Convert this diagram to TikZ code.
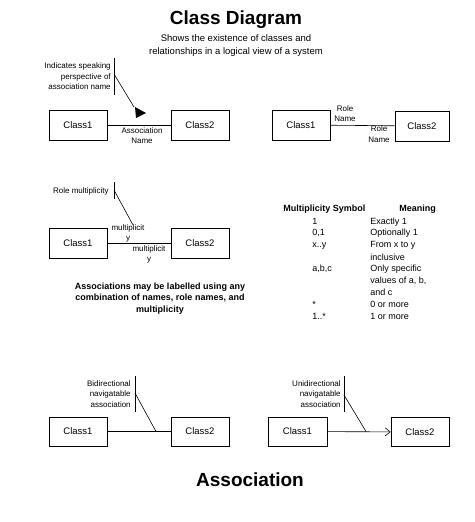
\documentclass[tikz,border=0pt]{standalone}
\usepackage{fontspec}
\setmainfont{Liberation Sans}
\usetikzlibrary{arrows.meta}

\begin{document}
\begin{tikzpicture}
	 [x=1pt,y=-1pt,line width=.6pt,
	  cls/.style={draw,minimum width=58pt,minimum height=30pt,inner sep=0pt,font=\fontsize{9.5}{11}\selectfont},
	  note/.style={align=right,anchor=east,inner sep=0pt,font=\fontsize{8}{10.5}\selectfont},
	  lbl/.style={align=center,inner sep=0pt,font=\fontsize{8}{10}\selectfont},
	  tab/.style={anchor=base west,inner sep=0pt,font=\fontsize{9}{11}\selectfont}]
	\useasboundingbox (0,0) rectangle (474,522);

	\node (title) at (236,20) {\fontsize{19}{22}\selectfont\bfseries Class Diagram};
	\node[align=center,font=\fontsize{9.5}{13}\selectfont] (sub) at (236,45.5)
	  {Shows the existence of classes and\\relationships in a logical view of a system};

	% association name
	  \node[cls] (a1) at (78,125) {Class1};
	  \node[cls] (a2) at (200,125) {Class2};
	  \draw (a1) -- (a2);
	  \fill (135,107) -- (146,113) -- (136,118) -- cycle;
	  \coordinate (tri) at (134,107);
	  \node[lbl] (aname) at (142,136) {Association\\Name};
	  \node[note] (anote) at (111,76.5) {Indicates speaking\\perspective of\\association name};
	  \coordinate (abar1) at (114,58);
	  \coordinate (abar2) at (114,95);
	  \coordinate (aknee) at (114,74);
	  \draw (abar1) -- (abar2);
	  \draw (aknee) -- (tri);

	% role names
	  \node[cls] (b1) at (301,125) {Class1};
	  \node[cls,minimum width=54pt] (b2) at (422,126) {Class2};
	  \draw (b1) -- (b2);
	  \node[lbl,font=\fontsize{8}{9.5}\selectfont] (brole1) at (345,113.5) {Role\\Name};
	  \node[lbl,font=\fontsize{8}{11}\selectfont] (brole2) at (379,134.5) {Role\\Name};

	% multiplicity
	  \node[cls] (m1) at (78,243) {Class1};
	  \node[cls] (m2) at (200,243) {Class2};
	  \draw (m1) -- (m2);
	  \node[lbl] (mult1) at (128,233) {multiplicit\\y};
	  \node[lbl] (mult2) at (149,254) {multiplicit\\y};
	  \node[note] (mnote) at (109,191) {Role multiplicity};
	  \coordinate (mbar1) at (114,182);
	  \coordinate (mbar2) at (114,199);
	  \coordinate (mknee) at (114,190);
	  \coordinate (mend) at (133,225);
	  \draw (mbar1) -- (mbar2);
	  \draw (mknee) -- (mend);

	\node[align=center,font=\fontsize{9}{11.5}\selectfont\bfseries] (remark) at (160,298.5)
	  {Associations may be labelled using any\\combination of names, role names, and\\multiplicity};

	% multiplicity table
	\node[tab,font=\fontsize{9}{11}\selectfont\bfseries] (hsym) at (283,211) {Multiplicity Symbol};
	\node[tab,font=\fontsize{9}{11}\selectfont\bfseries] (hmean) at (399,211) {Meaning};
	\foreach \y/\sym [count=\i] in {224/1,235/{0,1},247/x..y,271/{a,b,c},307/*,319/1..*}
	  \node[tab] (s\i) at (312,\y) {\sym};
	\foreach \y/\mean [count=\i] in {224/Exactly 1,235/Optionally 1,247/From x to y,260/inclusive,
	    271/Only specific,283/{values of a, b,},295/and c,307/0 or more,319/1 or more}
	  \node[tab] (t\i) at (370,\y) {\mean};

	% bidirectional
	  \node[cls,minimum height=29pt] (c1) at (78,431.5) {Class1};
	  \node[cls,minimum height=29pt] (c2) at (200,431.5) {Class2};
	  \draw (c1) -- (c2);
	  \node[note] (cnote) at (131,394) {Bidirectional\\navigatable\\association};
	  \coordinate (cbar1) at (135,376);
	  \coordinate (cbar2) at (135,412);
	  \coordinate (cknee) at (135,393);
	  \coordinate (cend) at (156,431.5);
	  \draw (cbar1) -- (cbar2);
	  \draw (cknee) -- (cend);

	% unidirectional
	  \node[cls,minimum width=59pt,minimum height=29pt] (d1) at (297.5,431.5) {Class1};
	  \node[cls,minimum height=29pt] (d2) at (420,432) {Class2};
	  \draw[-{Straight Barb[length=5pt,width=8pt]}] (d1) -- (d2);
	  \node[note] (dnote) at (341,394) {Unidirectional\\navigatable\\association};
	  \coordinate (dbar1) at (344,376);
	  \coordinate (dbar2) at (344,412);
	  \coordinate (dknee) at (344,395);
	  \coordinate (dend) at (366,431.5);
	  \draw (dbar1) -- (dbar2);
	  \draw (dknee) -- (dend);

	\node (assoc) at (250,480) {\fontsize{19}{22}\selectfont\bfseries Association};

\end{tikzpicture}
\end{document}
